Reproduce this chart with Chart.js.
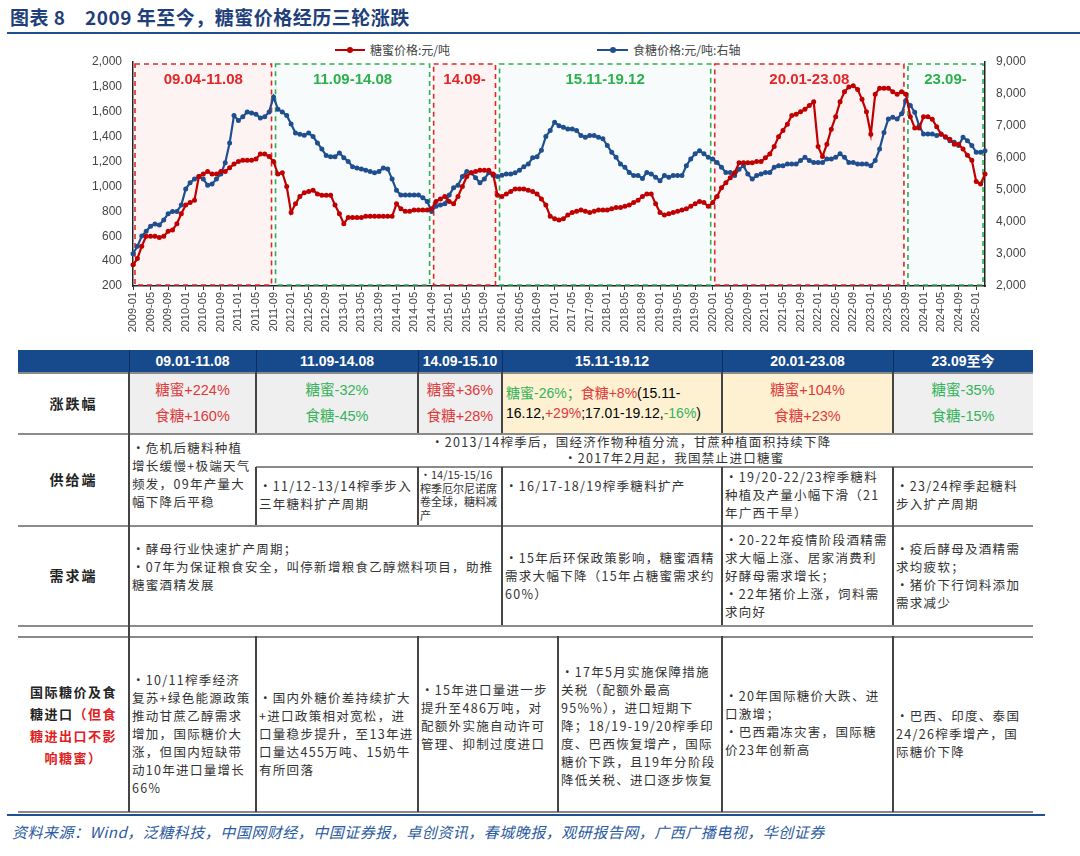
<!DOCTYPE html>
<html><head><meta charset="utf-8">
<script src="https://cdn.jsdelivr.net/npm/chart.js@4.4.0/dist/chart.umd.min.js"></script>
<style>
body{margin:0;width:1080px;height:856px;background:#fff;position:relative;overflow:hidden;font-family:"Noto Sans CJK SC",sans-serif;}
.abs{position:absolute;}
.c{position:absolute;box-sizing:border-box;font-size:12.5px;line-height:18px;color:#333;letter-spacing:1.3px;padding:3px 3px;}
.h{position:absolute;box-sizing:border-box;color:#fff;font:bold 14px "Liberation Sans","Noto Sans CJK SC";text-align:center;line-height:22px;}
.r{color:#e03a3a}.g{color:#33b35a}
.hl{position:absolute;height:2px;background:#8a8a8a;}
.vl{position:absolute;width:2px;background:#444;}
.lbl{position:absolute;box-sizing:border-box;font-weight:bold;font-size:14px;color:#222;text-align:center;letter-spacing:2px;display:flex;align-items:center;justify-content:center;}
.pct{position:absolute;box-sizing:border-box;text-align:center;font:14.5px "Liberation Sans","Noto Sans CJK SC";line-height:26px;display:flex;align-items:center;justify-content:center;flex-direction:column;}
</style></head><body>
<div class="abs" style="left:10px;top:3px;font-weight:bold;font-size:19px;color:#1f3f7a;letter-spacing:0.5px">图表 8　2009 年至今，糖蜜价格经历三轮涨跌</div>
<div class="abs" style="left:7px;top:32px;width:1073px;height:2px;background:#1f4f8f"></div>
<div class="abs" style="left:335px;top:49px;width:30px;height:2px;background:#c00000"></div>
<div class="abs" style="left:347px;top:47px;width:6px;height:6px;border-radius:3px;background:#c00000"></div>
<div class="abs" style="left:370px;top:41px;font-size:12px;color:#444">糖蜜价格:元/吨</div>
<div class="abs" style="left:597px;top:49px;width:31px;height:2px;background:#1f4f8f"></div>
<div class="abs" style="left:610px;top:47px;width:6px;height:6px;border-radius:3px;background:#1f4f8f"></div>
<div class="abs" style="left:633px;top:41px;font-size:12px;color:#444">食糖价格:元/吨:右轴</div>
<div class="abs" style="left:80px;top:40px;width:960px;height:300px"><canvas id="ch"></canvas></div>
<div id="tbl"></div>
<div class="abs" style="left:7px;top:814px;width:1038px;height:2px;background:#1f4f8f"></div>
<div class="abs" style="left:12px;top:821px;font-size:15px;font-style:italic;color:#2a5aa0;letter-spacing:0.5px">资料来源：Wind，泛糖科技，中国网财经，中国证券报，卓创资讯，春城晚报，观研报告网，广西广播电视，华创证券</div>
<script>
// ---- data ----
const months = [];
for (let y = 2009; y <= 2025; y++) for (let m = 1; m <= 12; m++) { if (y === 2025 && m > 3) break; months.push(y + '-' + String(m).padStart(2, '0')); }
const molasses = [
 370,420,520,600,600,600,590,600,640,650,700,780,
 850,870,890,1080,1100,1120,1100,1100,1120,1120,1150,1180,
 1200,1210,1210,1210,1220,1260,1260,1240,1200,1100,1110,1000,
 790,860,920,950,960,970,940,930,930,930,850,780,
 700,750,750,750,750,760,760,760,760,760,760,760,
 860,820,800,800,810,810,810,810,820,880,900,920,
 880,860,920,1000,1080,1110,1120,1130,1130,1130,1100,930,
 920,940,960,980,980,980,970,960,940,900,850,760,
 740,730,740,770,790,800,810,800,790,800,810,810,
 810,820,830,830,840,850,870,890,920,940,940,860,
 790,770,780,790,800,810,820,840,860,880,870,840,
 870,920,990,1030,1070,1110,1190,1190,1190,1190,1200,1200,
 1230,1260,1320,1400,1450,1500,1570,1580,1600,1620,1650,1680,
 1320,1240,1340,1460,1560,1680,1760,1800,1810,1780,1700,1600,
 1420,1740,1790,1790,1790,1760,1740,1760,1740,1560,1470,1470,
 1560,1560,1540,1480,1420,1400,1380,1340,1340,1300,1250,1210,
 1040,1020,1100];
const sugar = [
 3010,3240,3560,3710,3870,3940,3910,4060,4260,4330,4330,4530,
 5030,5230,5340,5420,5340,5150,5190,5340,5500,5850,6470,7330,
 7170,7290,7440,7410,7370,7250,7290,7440,7910,7520,7440,7330,
 7060,6780,6740,6710,6780,6670,6470,6280,6080,6040,6040,6160,
 6010,5890,5730,5690,5660,5620,5580,5540,5580,5690,5660,5340,
 4990,4840,4840,4840,4840,4840,4760,4640,4330,4490,4530,4570,
 4840,5070,5150,5420,5580,5540,5380,5230,5340,5540,5460,5420,
 5460,5500,5500,5540,5620,5730,5810,6010,6040,6240,6670,6860,
 7120,7010,6960,6910,6910,6860,6700,6650,6700,6700,6650,6600,
 6390,6180,6020,5810,5710,5550,5450,5450,5360,5550,5500,5400,
 5290,5450,5400,5450,5450,5450,5760,5970,6130,6230,6130,6020,
 5970,5860,5710,5550,5550,5450,5650,5760,5500,5340,5450,5500,
 5550,5550,5710,5760,5760,5810,5810,5810,5920,6020,5920,5860,
 5860,5860,5970,5970,6020,6130,6020,5860,5860,5810,5810,5810,
 5760,5920,6280,6800,7220,7270,7220,7380,7800,7640,7430,7010,
 6750,6750,6750,6700,6750,6650,6540,6490,6390,6650,6540,6390,
 6180,6180,6230];
const periodLabels = ['09.04-11.08','11.09-14.08','14.09-','15.11-19.12','20.01-23.08','23.09-'];
const periodStart = ['2009-01','2011-09','2014-09','2015-12','2020-01','2023-09'];
const periodEnd   = ['2011-09','2014-09','2015-12','2020-01','2023-09','2025-03'];
const periodUp = [true,false,true,false,true,false];

const boxes = {
  id:'boxes',
  beforeDatasetsDraw(c){
    const {ctx, chartArea:a, scales:{x}} = c;
    periodLabels.forEach((t,i)=>{
      const x1 = x.getPixelForValue(months.indexOf(periodStart[i])) + 2;
      const x2 = x.getPixelForValue(months.indexOf(periodEnd[i])) - 2;
      const col = periodUp[i] ? '#e02828' : '#2bb04c';
      ctx.save();
      ctx.fillStyle = periodUp[i] ? '#fdf3f3' : '#f8fbfb';
      ctx.fillRect(x1, a.top+2, x2-x1, a.bottom-a.top-3);
      ctx.setLineDash([5,4]); ctx.lineWidth = 1.6; ctx.strokeStyle = col;
      ctx.strokeRect(x1, a.top+2, x2-x1, a.bottom-a.top-3);
      ctx.setLineDash([]);
      ctx.fillStyle = col; ctx.font = 'bold 15px "Liberation Sans", Arial';
      ctx.textAlign = 'center'; ctx.textBaseline = 'middle';
      ctx.fillText(t, (x1+x2)/2, a.top+18);
      ctx.restore();
    });
  }
};
new Chart(document.getElementById('ch'), {
  type:'line',
  data:{labels:months, datasets:[
    {label:'糖蜜价格:元/吨', data:molasses, yAxisID:'y', borderColor:'#c00000', backgroundColor:'#c00000', borderWidth:2.2, pointRadius:1.4, pointHoverRadius:0, tension:0},
    {label:'食糖价格:元/吨:右轴', data:sugar, yAxisID:'y1', borderColor:'#1f4f8f', backgroundColor:'#1f4f8f', borderWidth:2.2, pointRadius:1.4, pointHoverRadius:0, tension:0}
  ]},
  options:{
    responsive:true, maintainAspectRatio:false, animation:false,
    layout:{padding:{top:22,left:0,right:0,bottom:0}},
    plugins:{legend:{display:false}, tooltip:{enabled:false}},
    scales:{
      x:{offset:false, afterFit(s){s.height=54;},
         grid:{display:true, drawOnChartArea:false, tickLength:4, color:(c)=>c.index%4===0?'#333':'rgba(0,0,0,0)'},
         border:{color:'#222', width:1.5},
         ticks:{autoSkip:false, maxRotation:90, minRotation:90, padding:2, color:'#444', font:{size:11, family:'"Liberation Sans", Arial'},
           callback(v,i){return i%4===0 ? months[i] : '';}}},
      y:{position:'left', min:200, max:2000, afterFit(s){s.width=53;},
         grid:{display:false}, border:{color:'#222', width:1.5},
         ticks:{stepSize:200, color:'#444', font:{size:12, family:'"Liberation Sans", Arial'}, callback:v=>v.toLocaleString('en-US')}},
      y1:{position:'right', min:2000, max:9000, afterFit(s){s.width=55;},
         grid:{display:false}, border:{color:'#222', width:1.5},
         ticks:{stepSize:1000, color:'#444', font:{size:12, family:'"Liberation Sans", Arial'}, callback:v=>v.toLocaleString('en-US')}}
    }
  },
  plugins:[boxes]
});

// ---- table ----
const T = document.getElementById('tbl');
function add(cls, x1, y1, x2, y2, html, extra){
  const d = document.createElement('div'); d.className = cls;
  d.style.left = x1+'px'; d.style.top = y1+'px'; d.style.width = (x2-x1)+'px'; d.style.height = (y2-y1)+'px';
  if (extra) d.style.cssText += extra;
  d.innerHTML = html || ''; T.appendChild(d);
}
// header
add('abs',18,350,1033,372,'','background:#174a8c');
const hx = [129,256,418,502,722,893,1033];
const ht = ['09.01-11.08','11.09-14.08','14.09-15.10','15.11-19.12','20.01-23.08','23.09至今'];
ht.forEach((t,i)=>add('h',hx[i],350,hx[i+1],372,t));
hx.slice(0,6).forEach(x=>add('abs',x,350,x+1,372,'','background:#0d2d5a'));
// pct row bg
add('abs',129,372,502,433,'','background:#efefef');
add('abs',502,372,893,433,'','background:#fdf1d2');
add('abs',893,372,1033,433,'','background:#efefef');
add('pct',129,372,256,433,'<span class="r">糖蜜+224%</span><span class="r">食糖+160%</span>');
add('pct',256,372,418,433,'<span class="g">糖蜜-32%</span><span class="g">食糖-45%</span>');
add('pct',418,372,502,433,'<span class="r">糖蜜+36%</span><span class="r">食糖+28%</span>');
add('pct',502,372,722,433,'<span style="display:block;text-align:left;width:100%;padding-left:8px;font-size:14px;line-height:20px"><span class="g">糖蜜-26%；</span><span class="r">食糖+8%</span>(15.11-<br>16.12,<span class="r">+29%</span>;17.01-19.12,<span class="g">-16%</span>)</span>');
add('pct',722,372,893,433,'<span class="r">糖蜜+104%</span><span class="r">食糖+23%</span>');
add('pct',893,372,1033,433,'<span class="g">糖蜜-35%</span><span class="g">食糖-15%</span>');
// labels
add('lbl',18,372,129,433,'涨跌幅');
add('lbl',18,433,129,525,'供给端');
add('lbl',18,525,129,625,'需求端');
add('lbl',18,637,129,812,'<div style="font-size:13px;line-height:22px;letter-spacing:1.5px;padding:0 6px">国际糖价及食糖进口<span style="color:#e02020">（但食糖进出口不影响糖蜜）</span></div>');
// supply
add('c',129,433,256,525,'·危机后糖料种植增长缓慢+极端天气频发，09年产量大幅下降后平稳','padding-top:6px');
add('c',256,433,893,467,'<div style="padding-left:172px">·2013/14榨季后，国经济作物种植分流，甘蔗种植面积持续下降</div><div style="padding-left:305px">·2017年2月起，我国禁止进口糖蜜</div>','line-height:16px;padding-top:1px');
add('c',256,467,418,525,'·11/12-13/14榨季步入三年糖料扩产周期','padding-top:10px');
add('c',418,467,502,525,'·14/15-15/16榨季厄尔尼诺席卷全球，糖料减产','font-size:11px;line-height:13.5px;padding:1px 2px;letter-spacing:0');
add('c',502,467,722,525,'·16/17-18/19榨季糖料扩产','padding-top:10px');
add('c',722,467,893,525,'·19/20-22/23榨季糖料种植及产量小幅下滑（21年广西干旱）','padding-top:1px');
add('c',893,467,1033,525,'·23/24榨季起糖料步入扩产周期','padding-top:10px');
// demand
add('c',129,525,502,625,'·酵母行业快速扩产周期；<br>·07年为保证粮食安全，叫停新增粮食乙醇燃料项目，助推糖蜜酒精发展','padding-top:15px');
add('c',502,525,722,625,'·15年后环保政策影响，糖蜜酒精需求大幅下降（15年占糖蜜需求约60%）','padding-top:24px');
add('c',722,525,893,625,'·20-22年疫情阶段酒精需求大幅上涨、居家消费利好酵母需求增长；<br>·22年猪价上涨，饲料需求向好','padding-top:6px');
add('c',893,525,1033,625,'·疫后酵母及酒精需求均疲软；<br>·猪价下行饲料添加需求减少','padding-top:15px');
// import
add('c',129,637,256,812,'·10/11榨季经济复苏+绿色能源政策推动甘蔗乙醇需求增加，国际糖价大涨，但国内短缺带动10年进口量增长66%','padding-top:34px');
add('c',256,637,418,812,'·国内外糖价差持续扩大+进口政策相对宽松，进口量稳步提升，至13年进口量达455万吨、15奶牛有所回落','padding-top:52px');
add('c',418,637,558,812,'·15年进口量进一步提升至486万吨，对配额外实施自动许可管理、抑制过度进口','padding-top:44px');
add('c',558,637,722,812,'·17年5月实施保障措施关税（配额外最高95%%），进口短期下降；18/19-19/20榨季印度、巴西恢复增产，国际糖价下跌，且19年分阶段降低关税、进口逐步恢复','padding-top:26px');
add('c',722,637,893,812,'·20年国际糖价大跌、进口激增；<br>·巴西霜冻灾害，国际糖价23年创新高','padding-top:50px');
add('c',893,637,1033,812,'·巴西、印度、泰国24/26榨季增产，国际糖价下降','padding-top:70px');
// lines
[372,433,525,625,636,811].forEach(y=>add('hl',18,y,1033,y+2));
add('abs',256,466,1033,468,'','background:#8a8a8a');
[[129,372,812],[256,372,433],[418,372,433],[502,372,433],[722,372,433],[893,372,433],
 [256,467,525],[418,467,525],[502,467,525],[722,467,525],[893,467,525],
 [502,525,625],[722,525,625],[893,525,625],
 [256,636,812],[418,636,812],[558,636,812],[722,636,812],[893,636,812]].forEach(([x,a,b])=>add('vl',x-1,a,x+1,b));
</script>
</body></html>
